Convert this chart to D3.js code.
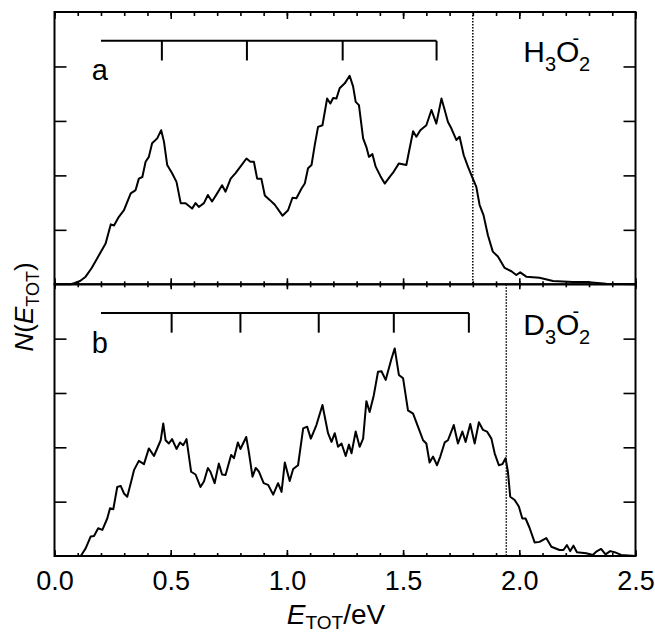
<!DOCTYPE html>
<html>
<head>
<meta charset="utf-8">
<script src="https://cdn.jsdelivr.net/npm/d3@7"></script>
<style>
  body { margin: 0; background: #fff; }
  text { font-family: "Liberation Sans", Arial, Helvetica, sans-serif; fill: #000; }
</style>
</head>
<body>
<div id="chart"></div>
<script>
// spectrum a: H3O2- , [E_TOT (eV), N]
var spectrumA = [
  [0.0, 0], [0.07, 0], [0.084, 0.02], [0.11, 0.06], [0.134, 0.14], [0.16, 0.3], [0.184, 0.48],
  [0.22, 0.75], [0.242, 1.10], [0.256, 1.08], [0.277, 1.24], [0.299, 1.36], [0.328, 1.67],
  [0.349, 1.73], [0.363, 1.94], [0.378, 1.97], [0.392, 2.25], [0.406, 2.34], [0.42, 2.59],
  [0.442, 2.68], [0.459, 2.83], [0.471, 2.62], [0.485, 2.19], [0.506, 2.04], [0.525, 1.88],
  [0.543, 1.49], [0.564, 1.49], [0.592, 1.39], [0.607, 1.49], [0.621, 1.42], [0.643, 1.49],
  [0.66, 1.64], [0.678, 1.52], [0.70, 1.67], [0.721, 1.82], [0.736, 1.70], [0.758, 1.94],
  [0.779, 2.04], [0.80, 2.16], [0.826, 2.31], [0.843, 2.25], [0.858, 2.25], [0.872, 1.94],
  [0.89, 1.94], [0.905, 1.63], [0.926, 1.55], [0.948, 1.46], [0.981, 1.26], [1.005, 1.36],
  [1.024, 1.59], [1.041, 1.58], [1.063, 1.76], [1.077, 1.85], [1.091, 2.13], [1.106, 2.19],
  [1.12, 2.56], [1.134, 2.89], [1.153, 2.92], [1.173, 3.41], [1.187, 3.32], [1.199, 3.42],
  [1.213, 3.41], [1.227, 3.60], [1.249, 3.69], [1.27, 3.83], [1.285, 3.63], [1.296, 3.35],
  [1.31, 3.29], [1.328, 2.68], [1.342, 2.52], [1.353, 2.34], [1.368, 2.39], [1.382, 2.16],
  [1.402, 1.99], [1.421, 1.85], [1.44, 1.96], [1.46, 2.07], [1.482, 2.22], [1.514, 2.19],
  [1.525, 2.43], [1.543, 2.81], [1.557, 2.71], [1.574, 2.83], [1.60, 2.92], [1.622, 3.20],
  [1.643, 2.95], [1.665, 3.41], [1.679, 3.20], [1.693, 2.98], [1.708, 2.86], [1.729, 2.65],
  [1.743, 2.71], [1.761, 2.37], [1.779, 2.16], [1.80, 1.94], [1.815, 1.79], [1.829, 1.46],
  [1.846, 1.27], [1.865, 0.90], [1.886, 0.60], [1.908, 0.51], [1.937, 0.30], [1.966, 0.24],
  [1.987, 0.17], [2.004, 0.22], [2.03, 0.14], [2.087, 0.12], [2.145, 0.06], [2.23, 0.04],
  [2.30, 0.04], [2.374, 0.01], [2.5, 0]
];

// spectrum b: D3O2-
var spectrumB = [
  [0.0, 0], [0.10, 0], [0.113, 0], [0.134, 0.14], [0.156, 0.36], [0.17, 0.37], [0.188, 0.51],
  [0.206, 0.48], [0.227, 0.69], [0.239, 0.88], [0.253, 0.86], [0.27, 1.27], [0.285, 1.29],
  [0.299, 1.15], [0.313, 1.09], [0.33, 1.37], [0.342, 1.58], [0.363, 1.75], [0.385, 1.69],
  [0.406, 1.98], [0.428, 1.84], [0.457, 2.13], [0.468, 2.44], [0.478, 2.13], [0.492, 2.07],
  [0.506, 2.15], [0.525, 1.97], [0.54, 2.09], [0.554, 2.04], [0.568, 2.15], [0.588, 1.55],
  [0.607, 1.50], [0.628, 1.27], [0.643, 1.37], [0.66, 1.62], [0.671, 1.55], [0.689, 1.34],
  [0.707, 1.70], [0.721, 1.50], [0.736, 1.49], [0.76, 1.86], [0.772, 1.80], [0.789, 2.09],
  [0.80, 1.97], [0.825, 2.19], [0.836, 1.92], [0.852, 1.46], [0.866, 1.62], [0.88, 1.55],
  [0.90, 1.34], [0.919, 1.31], [0.941, 1.13], [0.962, 1.34], [0.977, 1.18], [0.991, 1.72],
  [1.012, 1.38], [1.027, 1.60], [1.048, 1.67], [1.07, 2.35], [1.087, 2.38], [1.103, 2.16],
  [1.127, 2.41], [1.153, 2.78], [1.177, 2.26], [1.192, 2.10], [1.206, 2.26], [1.22, 2.01],
  [1.235, 2.07], [1.253, 1.84], [1.267, 2.05], [1.278, 1.89], [1.296, 2.29], [1.313, 2.01],
  [1.328, 2.16], [1.342, 2.85], [1.356, 2.65], [1.374, 2.96], [1.392, 3.39], [1.407, 3.40],
  [1.425, 3.24], [1.45, 3.63], [1.464, 3.82], [1.482, 3.33], [1.50, 3.27], [1.521, 2.68],
  [1.543, 2.62], [1.564, 2.38], [1.586, 2.13], [1.60, 2.07], [1.614, 1.72], [1.629, 1.83],
  [1.646, 1.67], [1.66, 1.83], [1.679, 2.09], [1.693, 2.13], [1.718, 2.41], [1.736, 2.07],
  [1.755, 2.29], [1.769, 2.10], [1.789, 2.43], [1.808, 2.07], [1.826, 2.46], [1.844, 2.32],
  [1.861, 2.29], [1.88, 2.16], [1.894, 1.89], [1.912, 1.67], [1.927, 1.69], [1.941, 1.80],
  [1.951, 1.55], [1.961, 1.09], [1.98, 1.03], [1.998, 0.91], [2.013, 0.69], [2.027, 0.69],
  [2.044, 0.52], [2.066, 0.25], [2.087, 0.26], [2.116, 0.33], [2.138, 0.17], [2.173, 0.11],
  [2.19, 0.11], [2.205, 0.20], [2.219, 0.09], [2.233, 0.19], [2.248, 0.07], [2.288, 0.05],
  [2.316, 0.02], [2.331, 0.08], [2.352, 0.13], [2.371, 0.03], [2.391, 0.09], [2.41, 0.07],
  [2.438, 0.02], [2.5, 0]
];

// vibrational progression combs
var combA = [0.462, 0.828, 1.24, 1.644];
var combB = [0.504, 0.80, 1.137, 1.46, 1.783];
var combStart = 0.2;
var combLevel = 4.47, combDrop = 4.11;

// thresholds (dotted lines)
var thresholdA = 1.80;
var thresholdB = 1.944;

var xMajor = [0, 0.5, 1.0, 1.5, 2.0, 2.5];
var xMinor = d3.range(0, 26).map(function(i) { return i / 10; });
var yTicks = [1, 2, 3, 4];

var width = 655, height = 634;
var plotLeft = 54.5, plotRight = 635.5, plotTop = 12, plotMid = 284.3, plotBottom = 556;

var svg = d3.select("#chart").append("svg")
    .attr("width", width)
    .attr("height", height);

svg.append("rect").attr("width", width).attr("height", height).attr("fill", "#fff");

var x = d3.scaleLinear().domain([0, 2.5]).range([plotLeft, plotRight]);
var yA = d3.scaleLinear().domain([0, 5]).range([plotMid, plotTop]);
var yB = d3.scaleLinear().domain([0, 5]).range([plotBottom, plotMid]);

function panel(y, y0, y1, data, comb, threshold, letter, formula, topMajor, topMinor) {
    var g = svg.append("g");

    // x ticks on top edge (inward)
    g.append("g").attr("transform", "translate(0," + y1 + ")")
        .call(d3.axisTop(x).tickValues(xMinor).tickSize(-topMinor).tickSizeOuter(0).tickFormat(""));
    g.append("g").attr("transform", "translate(0," + y1 + ")")
        .call(d3.axisTop(x).tickValues(xMajor).tickSize(-topMajor).tickSizeOuter(0).tickFormat(""));
    // x ticks on bottom edge (inward)
    g.append("g").attr("transform", "translate(0," + y0 + ")")
        .call(d3.axisBottom(x).tickValues(xMinor).tickSize(-3).tickSizeOuter(0).tickFormat(""));
    g.append("g").attr("transform", "translate(0," + y0 + ")")
        .call(d3.axisBottom(x).tickValues(xMajor).tickSize(-6).tickSizeOuter(0).tickFormat(""));
    // y ticks left and right (inward)
    g.append("g").attr("transform", "translate(" + plotLeft + ",0)")
        .call(d3.axisLeft(y).tickValues(yTicks).tickSize(-12).tickSizeOuter(0).tickFormat(""));
    g.append("g").attr("transform", "translate(" + plotRight + ",0)")
        .call(d3.axisRight(y).tickValues(yTicks).tickSize(-12).tickSizeOuter(0).tickFormat(""));

    g.selectAll(".domain").remove();
    g.selectAll(".tick line").attr("stroke", "#000").attr("stroke-width", 1.6);

    // threshold
    g.append("line")
        .attr("x1", x(threshold)).attr("x2", x(threshold))
        .attr("y1", y1).attr("y2", y0)
        .attr("stroke", "#000").attr("stroke-width", 1.5)
        .attr("stroke-dasharray", "1.5,1.5");

    // spectrum
    var line = d3.line()
        .x(function(d) { return x(d[0]); })
        .y(function(d) { return y(d[1]); });
    g.append("path")
        .datum(data)
        .attr("d", line)
        .attr("fill", "none")
        .attr("stroke", "#000")
        .attr("stroke-width", 2)
        .attr("stroke-linejoin", "round");

    // comb
    g.append("line")
        .attr("x1", x(combStart)).attr("x2", x(comb[comb.length - 1]))
        .attr("y1", y(combLevel)).attr("y2", y(combLevel))
        .attr("stroke", "#000").attr("stroke-width", 2);
    g.selectAll(".comb").data(comb).enter().append("line")
        .attr("x1", function(d) { return x(d); })
        .attr("x2", function(d) { return x(d); })
        .attr("y1", y(combLevel))
        .attr("y2", y(combDrop))
        .attr("stroke", "#000").attr("stroke-width", 2);

    // panel letter
    g.append("text")
        .attr("x", x(0.16)).attr("y", y(combDrop) + 20)
        .attr("font-size", 29)
        .text(letter);

    // formula with sub/superscripts
    var t = g.append("text")
        .attr("x", x(2.0) + 4).attr("y", y(combDrop) + 2)
        .attr("font-size", 30);
    t.append("tspan").text(formula);
    t.append("tspan").attr("font-size", 20).attr("dy", 9).text("3");
    t.append("tspan").attr("dy", -9).text("O");
    t.append("tspan").attr("font-size", 20).attr("dy", -17).attr("dx", -7).text("-");
    t.append("tspan").attr("font-size", 20).attr("dy", 26).attr("dx", 0).text("2");

    // frame
    g.append("rect")
        .attr("x", plotLeft).attr("y", y1)
        .attr("width", plotRight - plotLeft).attr("height", y0 - y1)
        .attr("fill", "none").attr("stroke", "#000").attr("stroke-width", 2);
}

panel(yA, plotMid, plotTop, spectrumA, combA, thresholdA, "a", "H", 7, 4);
panel(yB, plotBottom, plotMid, spectrumB, combB, thresholdB, "b", "D", 5, 3);

// x tick labels
var xa = svg.append("g").attr("transform", "translate(0," + plotBottom + ")")
    .call(d3.axisBottom(x).tickValues(xMajor).tickSize(0).tickPadding(15)
        .tickFormat(d3.format(".1f")));
xa.select(".domain").remove();
xa.selectAll("text").attr("font-size", 27)
    .attr("font-family", "'Liberation Sans', Arial, sans-serif").attr("fill", "#000");

// axis titles
var xt = svg.append("text")
    .attr("x", 336).attr("y", 624)
    .attr("text-anchor", "middle")
    .attr("font-size", 28);
xt.append("tspan").attr("font-style", "italic").text("E");
xt.append("tspan").attr("font-size", 19).attr("dy", 5).text("TOT");
xt.append("tspan").attr("dy", -5).text("/eV");

var yt = svg.append("text")
    .attr("transform", "translate(33," + 307 + ") rotate(-90)")
    .attr("text-anchor", "middle")
    .attr("font-size", 26);
yt.append("tspan").attr("font-style", "italic").text("N");
yt.append("tspan").text("(");
yt.append("tspan").attr("font-style", "italic").text("E");
yt.append("tspan").attr("font-size", 18).attr("dy", 6).text("TOT");
yt.append("tspan").attr("dy", -6).text(")");
</script>
</body>
</html>
